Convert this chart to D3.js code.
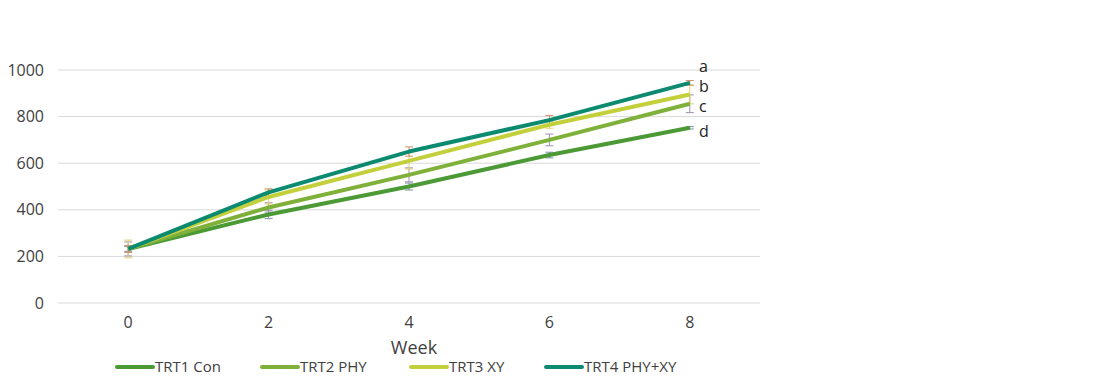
<!DOCTYPE html>
<html>
<head>
<meta charset="utf-8">
<script src="https://cdn.jsdelivr.net/npm/d3@7"></script>
<style>
  body { margin: 0; background: #fff; }
  svg { font-family: "Open Sans", sans-serif; }
</style>
</head>
<body>
<svg width="1100" height="388"></svg>
<script>
// chart data
const weeks = ["0", "2", "4", "6", "8"];
const seriesNames = ["TRT1 Con", "TRT2 PHY", "TRT3 XY", "TRT4 PHY+XY"];
const trt1 = [232, 380, 500, 635, 752];
const trt2 = [232, 410, 550, 700, 855];
const trt3 = [232, 455, 610, 765, 895];
const trt4 = [232, 475, 650, 785, 945];
const trt1Err = [10, 18, 15, 12, 5];
const trt2Err = [30, 20, 30, 25, 38];
const trt3Err = [38, 30, 35, 15, 40];
const trt4Err = [15, 15, 20, 20, 10];
const sigLetters = ["d", "c", "b", "a"];
const yTicks = [0, 200, 400, 600, 800, 1000];

const lineColors = ["#4c9a35", "#7fb03a", "#c3d03b", "#0b8a6f"];
const errColors = ["#7d8fa3", "#a08db5", "#e6cf6a", "#cf8f6c"];

const svg = d3.select("svg");
const margin = {left: 58, right: 340, top: 70, bottom: 85};
const width = 1100, height = 388;

const x = d3.scaleBand().domain(weeks).range([margin.left, width - margin.right]);
const y = d3.scaleLinear().domain([0, 1000]).range([height - margin.bottom, margin.top]);
const cx = d => x(d) + x.bandwidth() / 2;

// gridlines
svg.append("g")
    .selectAll("line")
    .data(yTicks)
    .join("line")
    .attr("x1", margin.left)
    .attr("x2", width - margin.right)
    .attr("y1", d => y(d))
    .attr("y2", d => y(d))
    .attr("stroke", "#d9d9d9")
    .attr("stroke-width", 1);

// y labels
svg.append("g")
    .selectAll("text")
    .data(yTicks)
    .join("text")
    .attr("x", 44)
    .attr("y", d => y(d))
    .attr("dy", "0.35em")
    .attr("text-anchor", "end")
    .attr("fill", "#404040")
    .style("font-size", "16px")
    .text(d => d);

// x labels
svg.append("g")
    .selectAll("text")
    .data(weeks)
    .join("text")
    .attr("x", d => cx(d))
    .attr("y", 322)
    .attr("dy", "0.35em")
    .attr("text-anchor", "middle")
    .attr("fill", "#404040")
    .style("font-size", "16px")
    .text(d => d);

svg.append("text")
    .attr("x", 414)
    .attr("y", 348)
    .attr("dy", "0.35em")
    .attr("text-anchor", "middle")
    .attr("fill", "#404040")
    .style("font-size", "18px")
    .text("Week");

const series = [trt1, trt2, trt3, trt4].map((vals, i) => ({
    name: seriesNames[i],
    values: vals,
    err: [trt1Err, trt2Err, trt3Err, trt4Err][i],
    color: lineColors[i],
    errColor: errColors[i],
    letter: sigLetters[i]
}));

// error bars
series.forEach(s => {
    const g = svg.append("g").attr("stroke", s.errColor).attr("stroke-width", 1);
    s.values.forEach((v, j) => {
        const px = cx(weeks[j]);
        g.append("line").attr("x1", px).attr("x2", px)
            .attr("y1", y(v - s.err[j])).attr("y2", y(v + s.err[j]));
        [v - s.err[j], v + s.err[j]].forEach(e => {
            g.append("line").attr("x1", px - 4).attr("x2", px + 4)
                .attr("y1", y(e)).attr("y2", y(e));
        });
    });
});

// lines
const line = d3.line().x((d, i) => cx(weeks[i])).y(d => y(d));
svg.append("g")
    .attr("fill", "none")
    .attr("stroke-width", 4)
    .attr("stroke-linejoin", "round")
    .selectAll("path")
    .data(series)
    .join("path")
    .attr("stroke", d => d.color)
    .attr("d", d => line(d.values));

// significance letters
const letterY = {a: 66, b: 86, c: 106, d: 131};
svg.append("g")
    .selectAll("text")
    .data(series)
    .join("text")
    .attr("x", 699)
    .attr("y", d => letterY[d.letter])
    .attr("dy", "0.35em")
    .attr("fill", "#222")
    .style("font-size", "16px")
    .text(d => d.letter);

// legend
const legendX = [117, 262, 411, 546];
const legend = svg.append("g")
    .selectAll("g")
    .data(series)
    .join("g")
    .attr("transform", (d, i) => `translate(${legendX[i]},367)`);
legend.append("line")
    .attr("x1", 0).attr("x2", 36)
    .attr("stroke", d => d.color)
    .attr("stroke-width", 4)
    .attr("stroke-linecap", "round");
legend.append("text")
    .attr("x", 38)
    .attr("dy", "0.35em")
    .attr("fill", "#404040")
    .style("font-size", "15px")
    .text(d => d.name);
</script>
</body>
</html>
